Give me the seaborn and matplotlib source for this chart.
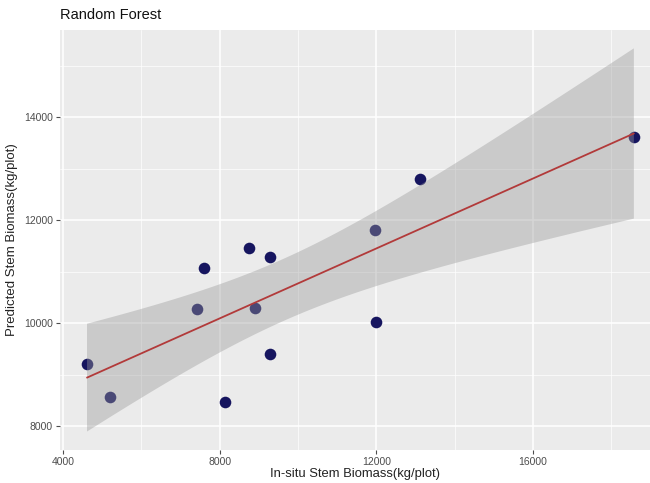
# -*- coding: utf-8 -*-

import numpy as np
import pandas as pd
import matplotlib.pyplot as plt
import seaborn as sns
from matplotlib.ticker import MultipleLocator

# values
insitu = [4613, 5200, 8136, 7600, 7421, 8749, 9285, 8902, 9285, 11966, 11990, 13114, 18578]
predicted = [9205, 8570, 8467, 11072, 10274, 11460, 11285, 10294, 9400, 11803, 10027, 12795, 13611]
x_ticks = [4000, 8000, 12000, 16000]
y_ticks = [8000, 10000, 12000, 14000]

df = pd.DataFrame({'insitu': insitu, 'predicted': predicted})

sns.set_theme(style="darkgrid", rc={"axes.facecolor": "#EBEBEB",
                                    "grid.color": "white",
                                    "xtick.bottom": True, "ytick.left": True})
plt.rcParams['font.family'] = ['Liberation Sans', 'DejaVu Sans']

fig = plt.figure(figsize=(6.5, 4.83), dpi=100)
ax = fig.add_axes([60/650, 1 - 450/483, 590/650, 420/483])

sns.regplot(data=df, x='insitu', y='predicted', ax=ax, ci=None,
            scatter_kws=dict(s=70, color="#16155f", alpha=1, linewidths=0),
            line_kws=dict(color="#b23a3a", lw=1.3))

# t-based 95% band like ggplot's geom_smooth(method="lm")
x = np.asarray(insitu, float)
y = np.asarray(predicted, float)
n = len(x)
b1, b0 = np.polyfit(x, y, 1)
resid = y - (b0 + b1 * x)
s = np.sqrt(np.sum(resid**2) / (n - 2))
grid = np.linspace(x.min(), x.max(), 100)
se = s * np.sqrt(1/n + (grid - x.mean())**2 / np.sum((x - x.mean())**2))
t = 2.200985  # t(0.975, df=11)
fit = b0 + b1 * grid
ax.fill_between(grid, fit - t*se, fit + t*se, facecolor="#999999", alpha=0.4,
                edgecolor="none", zorder=1)

ax.set_xlim(3923, 18990)
ax.set_ylim(7533, 15697)
ax.set_xticks(x_ticks)
ax.set_yticks(y_ticks)
ax.xaxis.set_minor_locator(MultipleLocator(2000))
ax.yaxis.set_minor_locator(MultipleLocator(1000))
ax.grid(which='major', color='white', lw=1.1)
ax.grid(which='minor', color='white', lw=0.5)
ax.tick_params(which='major', colors="#4D4D4D", labelsize=7.5, length=3, width=0.8, pad=2)
ax.tick_params(which='minor', length=0)
for sp in ax.spines.values():
    sp.set_visible(False)

ax.set_xlabel("In-situ Stem Biomass(kg/plot)", fontsize=9.4, labelpad=1, color="#222222")
ax.set_ylabel("Predicted Stem Biomass(kg/plot)", fontsize=9.5, labelpad=4, color="#222222")
ax.set_title("Random Forest", loc='left', fontsize=10.5, pad=8, color="#111111")

fig.savefig("out.png", dpi=100)
